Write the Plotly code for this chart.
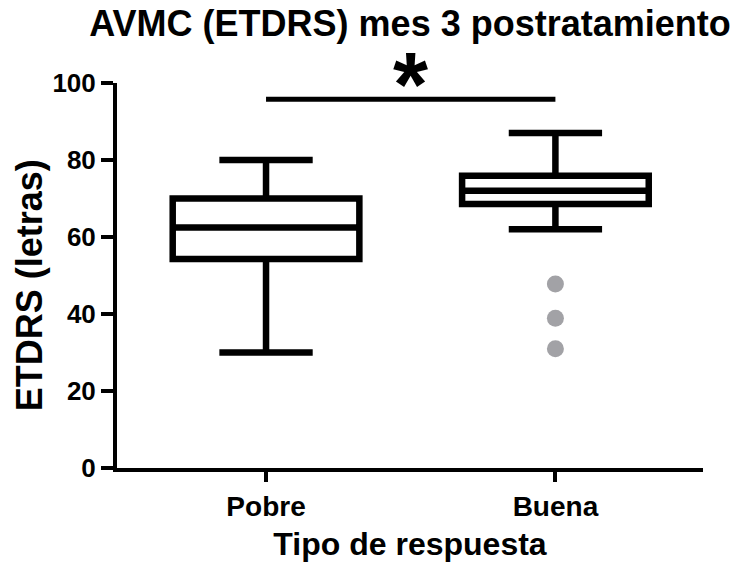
import plotly.graph_objects as go

# Visual acuity (ETDRS letters) at month 3 after treatment, by response type
groups = ["Pobre", "Buena"]
q1 = [54.3, 68.6]
medians = [62.5, 72.0]
q3 = [70.0, 75.9]
lower_whisker = [30.0, 62.0]
upper_whisker = [80.0, 87.0]

outlier_group = ["Buena", "Buena", "Buena"]
outlier_values = [47.8, 38.9, 31.0]

y_ticks = [0, 20, 40, 60, 80, 100]

FONT = "Liberation Sans, Arial, sans-serif"

fig = go.Figure()

fig.add_trace(go.Box(
    x=groups,
    q1=q1,
    median=medians,
    q3=q3,
    lowerfence=lower_whisker,
    upperfence=upper_whisker,
    width=0.645,
    whiskerwidth=0.5,
    fillcolor="white",
    line=dict(color="black", width=6.5),
    boxpoints=False,
    hoverinfo="skip",
    showlegend=False,
))

fig.add_trace(go.Scatter(
    x=outlier_group,
    y=outlier_values,
    mode="markers",
    marker=dict(size=17, color="#A2A2A6"),
    hoverinfo="skip",
    showlegend=False,
))

# significance bracket between the two groups
fig.add_shape(type="line", xref="x", yref="y",
              x0=groups[0], x1=groups[1], y0=95.8, y1=95.8,
              line=dict(color="black", width=5))
fig.add_annotation(x=0.5, xref="x", y=0.996, yref="paper", text="<b>*</b>",
                   showarrow=False, yanchor="middle", xanchor="center",
                   font=dict(family=FONT, size=90, color="black"))

# y-axis title placed as a rotated label
fig.add_annotation(x=-0.150, xref="paper", y=0.475, yref="paper",
                   text="<b>ETDRS (letras)</b>", textangle=-90,
                   showarrow=False, xanchor="center", yanchor="middle",
                   font=dict(family=FONT, size=36, color="black"))

fig.update_layout(
    width=745, height=562,
    margin=dict(l=117, r=42, t=83, b=94, autoexpand=False),
    paper_bgcolor="white", plot_bgcolor="white",
    title=dict(text="<b>AVMC (ETDRS) mes 3 postratamiento</b>",
               x=0.5, xref="paper", y=0.958, yref="container", yanchor="middle",
               font=dict(family=FONT, size=36, color="black")),
    font=dict(family=FONT, color="black"),
)

fig.update_xaxes(
    type="category",
    categoryorder="array", categoryarray=groups,
    range=[-0.515, 1.51],
    automargin=False,
    showline=True, linecolor="black", linewidth=4,
    ticks="outside", ticklen=10, tickwidth=4, tickcolor="black",
    showgrid=False, zeroline=False,
    tickfont=dict(family=FONT, size=28, color="black"),
    tickprefix="<b>", ticksuffix="</b>",
    title=dict(text="<b>Tipo de respuesta</b>", standoff=20,
               font=dict(family=FONT, size=32, color="black")),
)

fig.update_yaxes(
    range=[0, 100],
    automargin=False,
    tickvals=y_ticks, ticktext=[f"<b>{v}</b>" for v in y_ticks],
    showline=True, linecolor="black", linewidth=4,
    ticks="outside", ticklen=12, tickwidth=4, tickcolor="black",
    showgrid=False, zeroline=False,
    tickfont=dict(family=FONT, size=26, color="black"),
)

fig.write_html("out.html")
